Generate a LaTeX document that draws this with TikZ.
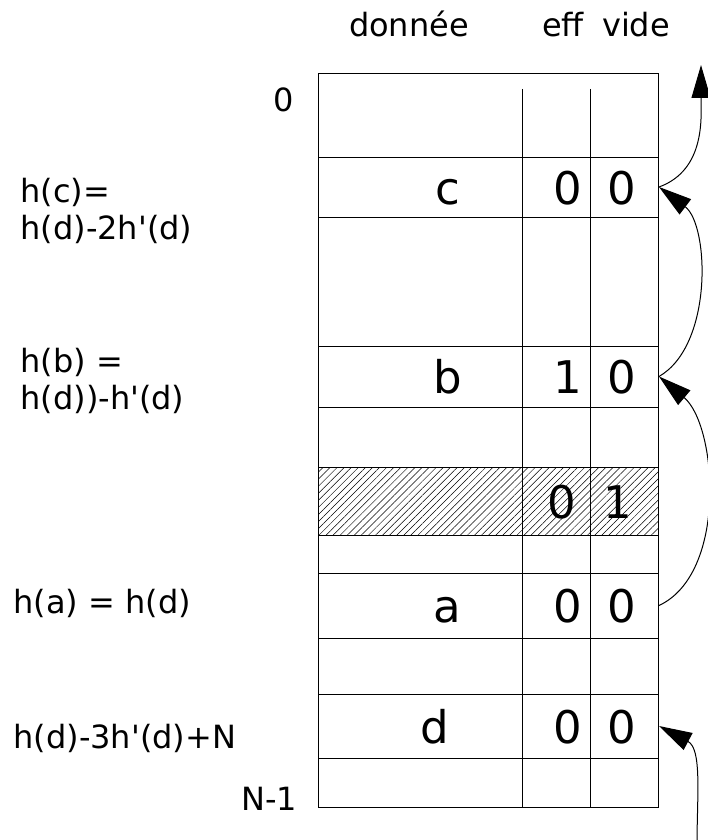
\documentclass[tikz,border=0pt]{standalone}
\usepackage{fontspec}
\setmainfont{DejaVu Sans}[Ligatures=TeXOff]
\usetikzlibrary{arrows.meta, patterns.meta}

\begin{document}
\begin{tikzpicture}
    [x=1pt, y=-1pt, line width=1pt,
     >={Triangle[length=33pt, width=19pt]},
     entry/.style={anchor=base, inner sep=0pt, font=\fontsize{45}{54}\selectfont},
     side/.style={inner sep=0pt, font=\fontsize{32}{37}\selectfont},
    ]
    \useasboundingbox (0,0) rectangle (708,840);

    % Deleted slot
    \fill[pattern={Lines[angle=45, distance=5pt, line width=.5pt]}]
        (318,467) rectangle (658,535);
    \draw (318,467) -- (658,467) (318,535) -- (658,535);
    \node[entry] (x-eff) at (562,518) {0};
    \node[entry] (x-vide) at (618,518) {1};

    % Slots
    \foreach \sn / \sx / \ya / \yb / \eff in
             {c/448/157/217/0, b/448/346/407/1, a/447/573/638/0, d/435/694/758/0} {
        \draw (318,\ya) -- (658,\ya) (318,\yb) -- (658,\yb);
        \coordinate (\sn) at (659, {(\ya+\yb)/2});
        \node[entry] (\sn-dat) at (\sx, {(\ya+\yb)/2+17}) {\sn};
        \node[entry] (\sn-eff) at (568, {(\ya+\yb)/2+17}) {\eff};
        \node[entry] (\sn-vide) at (622, {(\ya+\yb)/2+17}) {0};
    }

    % Table
    \draw (318,74) rectangle (658,807);
    \foreach \cx in {522, 590}
        \draw (\cx,89) -- (\cx,807);

    % Headers
    \node[side, anchor=base] (donnee) at (409,37) {donnée};
    \node[side, anchor=base] (eff) at (563,37) {eff};
    \node[side, anchor=base] (vide) at (636,37) {vide};

    % Addresses
    \node[side, anchor=base] (zero) at (284,112) {0};
    \node[side, anchor=base west] (nmoins) at (241,810) {N-1};

    % Hash values
    \node[side, anchor=west, align=left] (hc) at (20,211) {h(c)=\\h(d)-2h'(d)};
    \node[side, anchor=west, align=left] (hb) at (20,381) {h(b) =\\h(d))-h'(d)};
    \node[side, anchor=base west] (ha) at (13,613) {h(a) = h(d)};
    \node[side, anchor=base west] (hd) at (13,748) {h(d)-3h'(d)+N};

    % Probe chain
    \coordinate (haut) at (701,65);
    \coordinate (bas) at (697,845);
    \draw[->] (c) to[out=20, in=-90] (haut);
    \draw[->] (b) to[out=30, in=-37, looseness=.85] (c);
    \draw[->] (a) to[out=25, in=-40, looseness=.85] (b);
    \draw[->] (bas) to[out=90, in=-28] (d);
\end{tikzpicture}
\end{document}
